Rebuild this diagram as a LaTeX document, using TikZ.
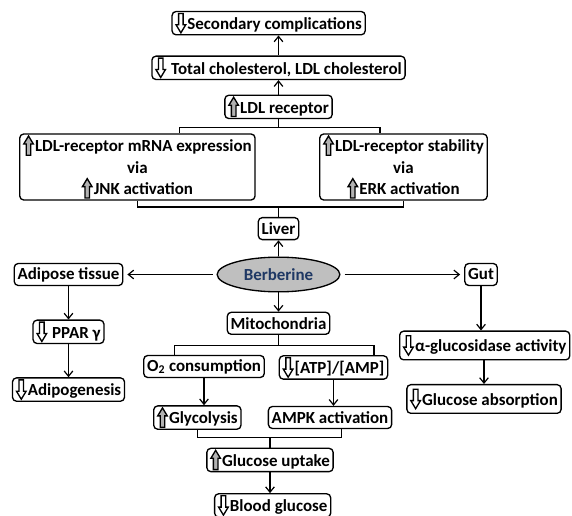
\documentclass[tikz,border=0pt]{standalone}
\usepackage{fontspec}
\setmainfont{Carlito}
\usepackage{xcolor}
\usepackage{tikz}
\usetikzlibrary{arrows,arrows.meta,shapes,positioning}

\definecolor{berbblue}{RGB}{31,56,100}

\newcommand{\upicon}{\tikz[baseline=2.5pt,x=1pt,y=1pt]\draw[line width=1pt,sharp corners,fill=gray!60] (1.9,0) -- (1.9,8.5) -- (0,8.5) -- (3.6,14.5) -- (7.2,8.5) -- (5.3,8.5) -- (5.3,0) -- cycle;\kern0.8pt}
\newcommand{\downicon}{\tikz[baseline=2.5pt,x=1pt,y=1pt]\draw[line width=1pt,sharp corners,fill=white] (1.9,14.5) -- (1.9,6) -- (0,6) -- (3.6,0) -- (7.2,6) -- (5.3,6) -- (5.3,14.5) -- cycle;\kern0.8pt}

\begin{document}
\begin{tikzpicture}[x=0.75pt, y=-0.75pt, >={Straight Barb[length=4pt,width=6.5pt]},
  box/.style={draw, rectangle, rounded corners=3pt, line width=1pt, inner xsep=2.5pt, inner ysep=1pt, minimum height=16.5pt, font=\fontsize{12.7}{16}\selectfont\bfseries},
  tallbox/.style={box, minimum height=21.5pt},
  link/.style={line width=0.9pt},
  flow/.style={->, line width=0.9pt}]

\useasboundingbox (0,0) rectangle (572,516);

\node[draw, ellipse, fill=gray!50, line width=1pt, minimum width=92pt, minimum height=26pt, text=berbblue, font=\fontsize{12.7}{14}\selectfont\bfseries] (berb) at (278.5,274.5) {Berberine};

% liver branch
\node[box, above of=berb, node distance=34.4pt] (liver) {Liver};
\node[box, above of=liver, node distance=91.3pt] (ldlrec) {\upicon LDL receptor};
\node[box, above of=ldlrec, node distance=29.3pt] (total) {\downicon\ Total cholesterol, LDL cholesterol};
\node[box, above of=total, node distance=33.5pt, xshift=-7.4pt] (secondary) {\downicon Secondary complications};
\node[box, align=center] (mrna) at (137.4,167) {\upicon LDL-receptor mRNA expression\\via\\\upicon JNK activation};
\node[box, align=center] (stab) at (403.5,167) {\upicon LDL-receptor stability\\via\\\upicon ERK activation};

% adipose and gut
\node[box, left of=berb, node distance=157.5pt] (adipose) {Adipose tissue};
\node[box, right of=berb, node distance=151.9pt] (gut) {Gut};
\node[box, below of=adipose, node distance=43pt] (ppar) {\downicon\ PPAR γ};
\node[box, below of=ppar, node distance=43.3pt] (adipo) {\downicon Adipogenesis};
\node[tallbox, anchor=west] (agluc) at (399,345.5) {\downicon α-glucosidase activity};
\node[tallbox] (gabs) at (484,399) {\downicon Glucose absorption};

% mitochondria branch
\node[box, below of=berb, node distance=36.6pt] (mito) {Mitochondria};
\node[box] (otwo) at (204,366.5) {O\textsubscript{2} consumption};
\node[box] (atp) at (333.5,367.5) {\downicon[ATP]/[AMP]};
\node[box, below of=otwo, node distance=38.3pt, xshift=-5pt] (glyc) {\upicon Glycolysis};
\node[box, below of=atp, node distance=37.5pt, xshift=-2.6pt] (ampk) {AMPK activation};
\node[box] (gup) at (270,460) {\upicon Glucose uptake};
\node[box, below of=gup, node distance=34.1pt, xshift=2pt] (blood) {\downicon Blood glucose};

\draw[flow] (total.north) -- (total.north |- secondary.south);
\draw[flow] (ldlrec) -- (total);
\coordinate (ldlfork) at ([yshift=-6.5pt]ldlrec.south);
\draw[link] (ldlrec) -- (ldlfork);
\draw[link] ([xshift=31.6pt]mrna.north) |- (ldlfork) -| ([xshift=-17.6pt]stab.north);
\coordinate (livfork) at ([yshift=7.5pt]liver.north);
\draw[link] (mrna.south) |- (livfork) -| (stab.south);
\draw[link] (livfork) -- (liver);
\draw[flow] (berb) -- (liver);

\draw[flow, shorten <=3pt, shorten >=3pt] (berb) -- (adipose);
\draw[flow, shorten <=3pt, shorten >=3pt] (berb) -- (gut);
\draw[flow] (adipose) -- (ppar);
\draw[flow] (ppar) -- (adipo);
\draw[flow] (gut.south) -- (gut.south |- agluc.north);
\draw[flow] (gabs.north |- agluc.south) -- (gabs.north);

\draw[flow] (berb) -- (mito);
\coordinate (mitofork) at ([yshift=-8pt]mito.south);
\draw[link] (mito) -- (mitofork);
\draw[link] ([xshift=-22.2pt]otwo.north) |- (mitofork) -| ([xshift=30.4pt]atp.north);
\draw[flow] (otwo.south) -- (otwo.south |- glyc.north);
\draw[flow] (atp.south) -- (atp.south |- ampk.north);
\coordinate (gupfork) at ([yshift=7.5pt]gup.north);
\draw[link] (glyc.south) |- (gupfork) -| ([xshift=8.3pt]ampk.south);
\draw[link] (gupfork) -- (gup);
\draw[flow] (gup.south) -- (gup.south |- blood.north);
\end{tikzpicture}
\end{document}
